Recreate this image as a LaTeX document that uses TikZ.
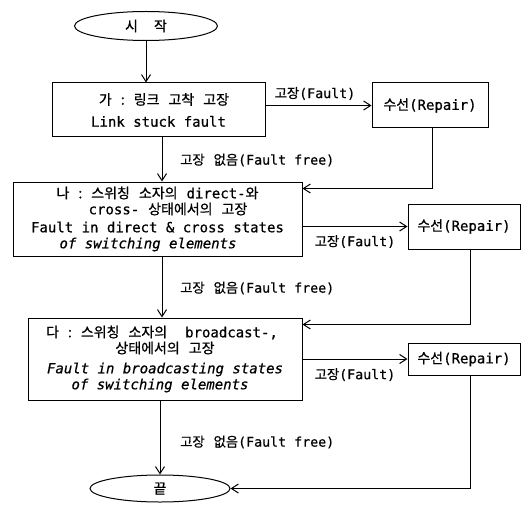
\documentclass[tikz,border=0pt]{standalone}
\usepackage{fontspec}
\setmainfont[FakeBold=0.6]{DejaVu Sans Mono}
\newfontfamily\ko[FakeBold=0.8]{Noto Sans CJK KR}
\newcommand\kg{\hspace{9pt}}
\usetikzlibrary{arrows.meta,shapes.geometric}
\tikzset{
  box/.style={draw, line width=1pt, align=center, inner sep=0pt, font=\fontsize{14}{16}\selectfont},
  term/.style={draw, ellipse, line width=1pt, inner sep=0pt, font=\fontsize{14}{14}\selectfont},
  flow/.style={draw, line width=1pt, -{Straight Barb[length=7pt,width=9pt]}},
  lbl/.style={font=\fontsize{13.3}{14}\selectfont, inner sep=0pt},
}
\begin{document}
\begin{tikzpicture}[x=1pt,y=-1pt]
\useasboundingbox (0,0) rectangle (521,505);
\node[term, minimum width=143pt, minimum height=29pt] (start) at (146,26) {\ko 시\hspace{16pt}작};
\node[box, minimum width=213pt, minimum height=54pt] (b1) at (158.5,110)
  {\hspace*{11pt}{\ko 가\kg:\kg 링크\kg 고착\kg 고장}\\[6pt] Link stuck fault};
\node[box, minimum width=116pt, minimum height=45pt] (r1) at (430,105.5) {{\ko 수선}(Repair)};
\node[box, minimum width=289pt, minimum height=74pt] (b2) at (157.5,219)
  {{\ko 나\kg:\kg 스위칭\kg 소자의}\kg direct-{\ko 와}\\
   \hspace*{21pt}cross-\kg{\ko 상태에서의\kg 고장}\\[2pt]
   Fault in direct \& cross states\hspace*{21pt}\\ \textit{of switching elements}\hspace*{19pt}};
\node[box, minimum width=112pt, minimum height=45pt] (r2) at (464,226.5) {{\ko 수선}(Repair)};
\node[box, minimum width=274pt, minimum height=82pt] (b3) at (165,359)
  {{\ko 다\kg:\kg 스위칭\kg 소자의}\kg\kg broadcast-,\hspace*{6pt}\\ {\ko 상태에서의\kg 고장}\hspace*{94pt}\\[4pt]
   \textit{Fault in broadcasting states}\hspace*{8pt}\\ \textit{of switching elements}\hspace*{10pt}};
\node[box, minimum width=112pt, minimum height=32pt] (r3) at (464,359) {{\ko 수선}(Repair)};
\node[term, minimum width=140pt, minimum height=27pt] (end) at (160,488.5) {\ko 끝};

\draw[flow] (start.south) -- (start.south |- b1.north);
\draw[flow] (b1.east |- r1.west) -- (r1.west);
\node[lbl, anchor=south] (f1) at (315,100) {{\ko 고장}(Fault)};
\draw[flow] ([xshift=3.5pt]b1.south) -- ([xshift=3.5pt]b1.south |- b2.north);
\node[lbl, anchor=west] (ff1) at (180,160) {{\ko 고장\kg 없음}(Fault free)};
\draw[flow] ([xshift=2pt]r1.south) |- ([yshift=-7pt]b2.north east);

\draw[flow] (b2.east |- r2.west) -- (r2.west);
\node[lbl, anchor=north] (f2) at (355,235) {{\ko 고장}(Fault)};
\draw[flow] ([xshift=4.5pt]b2.south) -- ([xshift=4.5pt]b2.south |- b3.north);
\node[lbl, anchor=west] (ff2) at (180,288) {{\ko 고장\kg 없음}(Fault free)};
\draw[flow] ([xshift=6pt]r2.south) |- ([yshift=-7pt]b3.north east);

\draw[flow] (b3.east |- r3.west) -- (r3.west);
\node[lbl, anchor=north] (f3) at (355,368) {{\ko 고장}(Fault)};
\draw[flow] (b3.south -| end.north) -- (end.north);
\node[lbl, anchor=west] (ff3) at (180,442) {{\ko 고장\kg 없음}(Fault free)};
\draw[flow] ([xshift=6pt]r3.south) |- (end.east);
\end{tikzpicture}
\end{document}
